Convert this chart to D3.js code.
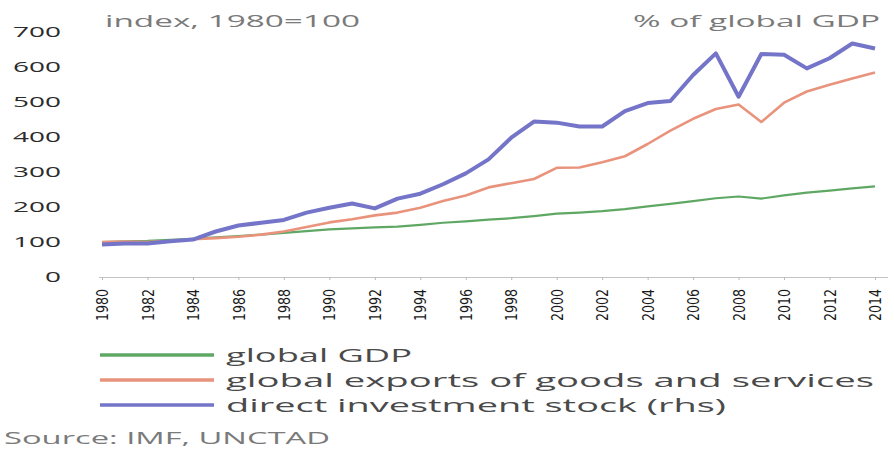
<!DOCTYPE html>
<html>
<head>
<meta charset="utf-8">
<script src="https://d3js.org/d3.v7.min.js"></script>
<style>
  body { margin: 0; background: #fff; }
  svg text { font-family: "Open Sans", "Noto Sans", sans-serif; }
</style>
</head>
<body>
<div id="chart"></div>
<script>
// data
var years = d3.range(1980, 2015);
var gdp = [100,102,103,106,109,113,117,121,126,131,136,139,142,144,149,155,159,164,168,174,181,184,188,194,202,209,217,225,230,224,233,241,247,253,259];
var exports = [100,101,100,103,108,111,115,121,130,143,156,165,176,184,198,217,233,256,268,280,312,313,328,345,380,418,452,480,493,443,498,530,549,567,584];
var fdi = [93,96,96,102,107,130,147,155,163,184,198,210,196,224,238,265,296,336,398,444,441,430,430,474,497,503,577,639,515,637,635,596,625,667,653];
var yTicks = [0,100,200,300,400,500,600,700];
var xTicks = d3.range(1980, 2015, 2);

var series = [
  {name: "global GDP", values: gdp, color: "#5fa864", width: 2.2, len: 186},
  {name: "global exports of goods and services", values: exports, color: "#e9937c", width: 2.6, len: 648},
  {name: "direct investment stock (rhs)", values: fdi, color: "#7474c9", width: 4, len: 500}
];

var W = 894, H = 452;
var svg = d3.select("#chart").append("svg")
    .attr("width", W)
    .attr("height", H);

// the reference text is drawn wide, so stretch each label to its measured width
function stretch(sel, len) {
  sel.attr("textLength", len).attr("lengthAdjust", "spacingAndGlyphs");
}

var x = d3.scaleLinear().domain([1980, 2014]).range([102, 875]);
var y = d3.scaleLinear().domain([0, 700]).range([277, 32]);

// y labels, no axis line
svg.append("g").selectAll("text")
  .data(yTicks).enter().append("text")
    .attr("x", 61)
    .attr("y", function(d) { return y(d); })
    .attr("dy", "0.36em")
    .attr("text-anchor", "end")
    .attr("textLength", function(d) { return String(d).length * 16; })
    .attr("lengthAdjust", "spacingAndGlyphs")
    .style("font-size", "15px")
    .style("fill", "#2b2b2b")
    .text(function(d) { return d; });

// x axis
var xAxis = svg.append("g")
    .attr("transform", "translate(0," + y(0) + ")")
    .call(d3.axisBottom(x).tickValues(xTicks).tickSize(3).tickFormat(d3.format("d")));
xAxis.select(".domain").attr("d", "M99,0.5H888").attr("stroke", "#c4c4c4");
xAxis.selectAll(".tick line").attr("stroke", "#b8b8b8");
xAxis.selectAll("text")
    .attr("transform", "rotate(-90)")
    .attr("x", -12)
    .attr("y", 0)
    .attr("dy", "0.35em")
    .attr("text-anchor", "end")
    .attr("textLength", 32)
    .attr("lengthAdjust", "spacingAndGlyphs")
    .style("font-family", "'Liberation Sans Narrow', 'DejaVu Sans Condensed', sans-serif")
    .style("font-size", "16px")
    .style("fill", "#1a1a1a");

// lines
var line = d3.line()
    .x(function(d, i) { return x(years[i]); })
    .y(function(d) { return y(d); });

series.forEach(function(s) {
  svg.append("path")
    .datum(s.values)
    .attr("fill", "none")
    .attr("stroke", s.color)
    .attr("stroke-width", s.width)
    .attr("stroke-linejoin", "round")
    .attr("d", line);
});

// unit labels
svg.append("text")
    .attr("x", 105).attr("y", 27)
    .style("font-size", "16px").style("fill", "#7a7a7a")
    .call(stretch, 255)
    .text("index, 1980=100");
svg.append("text")
    .attr("x", 633).attr("y", 27)
    .style("font-size", "16px").style("fill", "#7a7a7a")
    .call(stretch, 247)
    .text("% of global GDP");

// legend
var leg = svg.append("g").selectAll("g")
  .data(series).enter().append("g")
    .attr("transform", function(d, i) { return "translate(0," + (355 + i * 25) + ")"; });
leg.append("line")
    .attr("x1", 100).attr("x2", 214)
    .attr("stroke", function(d) { return d.color; })
    .attr("stroke-width", 3.5);
leg.append("text")
    .attr("x", 226)
    .attr("dy", "0.35em")
    .attr("textLength", function(d) { return d.len; })
    .attr("lengthAdjust", "spacingAndGlyphs")
    .style("font-size", "19px")
    .style("fill", "#4a4a4a")
    .text(function(d) { return d.name; });

svg.append("text")
    .attr("x", 4).attr("y", 444)
    .style("font-size", "16px").style("fill", "#7a7a7a")
    .call(stretch, 326)
    .text("Source: IMF, UNCTAD");
</script>
</body>
</html>
